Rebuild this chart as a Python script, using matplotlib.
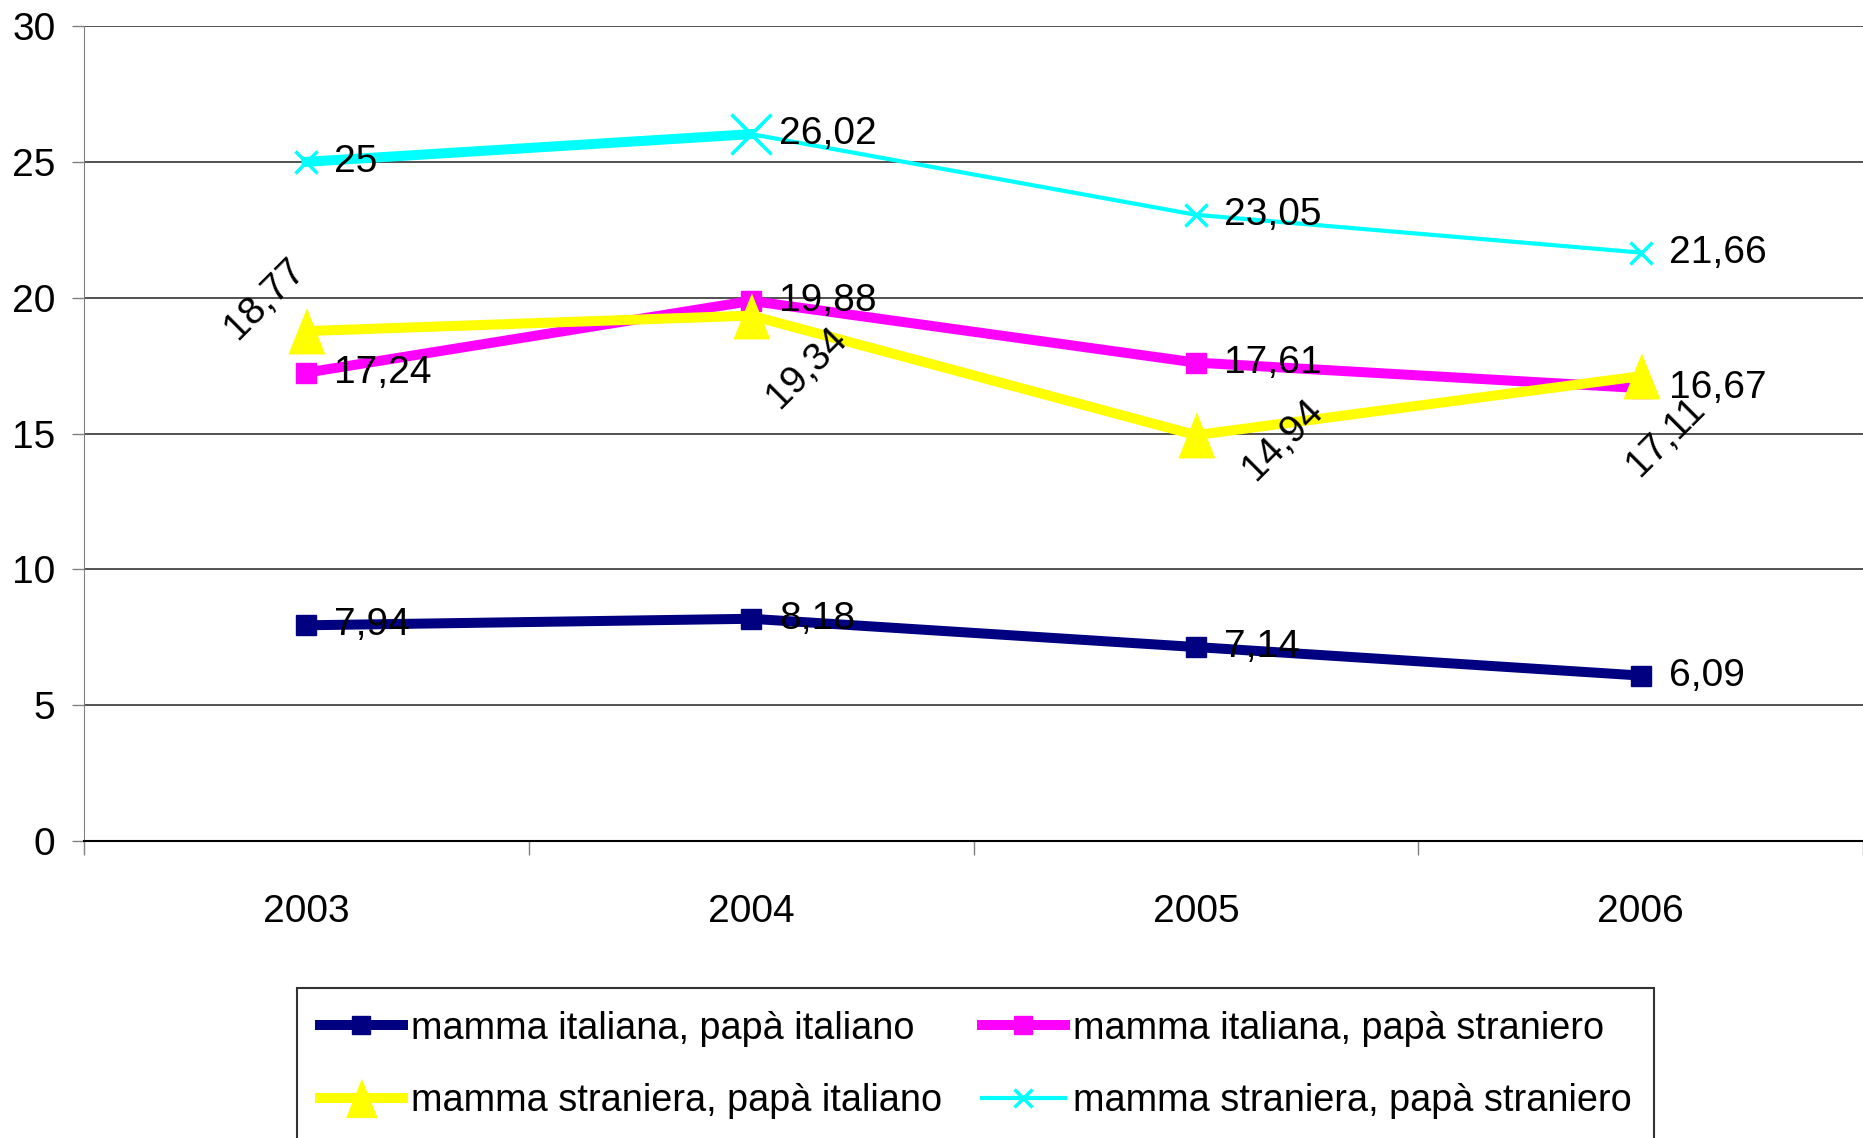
import numpy as np
import matplotlib
matplotlib.use("Agg")
from matplotlib import pyplot as plt

years = ["2003", "2004", "2005", "2006"]
it_it = [7.94, 8.18, 7.14, 6.09]
it_str = [17.24, 19.88, 17.61, 16.67]
str_it = [18.77, 19.34, 14.94, 17.11]
str_str = [25, 26.02, 23.05, 21.66]
names = ["mamma italiana, papà italiano", "mamma italiana, papà straniero",
         "mamma straniera, papà italiano", "mamma straniera, papà straniero"]

# rotated label offsets (pixels) for the yellow series
rot_offsets = [(-42, 32), (56, -52), (87, -5), (25, -61)]

plt.rcParams['font.family'] = ['Liberation Sans', 'DejaVu Sans']
FS = 28

def fmt(v):
	return f"{v:g}".replace('.', ',')

fig = plt.figure(figsize=(18.63, 11.38), dpi=100)
ax = fig.add_axes([84/1863, 1-841/1138, 1-84/1863, (841-26)/1138])

x = np.arange(len(years))
tri = [(-0.8, -1), (0.8, -1), (0, 1)]

l1, = ax.plot(x, it_it, color='#000080', lw=7.2, marker='s', ms=14.5, label=names[0], zorder=3)
l2, = ax.plot(x, it_str, color='#FF00FF', lw=7.2, marker='s', ms=14.5, label=names[1], zorder=4)
l3, = ax.plot(x, str_it, color='#FFFF00', lw=7.2, marker=tri, ms=32, label=names[2], zorder=5)
# cyan: first segment thick, rest thin
ax.plot(x[:2], str_str[:2], color='#00FFFF', lw=7.2, zorder=6)
l4, = ax.plot(x, str_str, color='#00FFFF', lw=3, marker='x', ms=16, mew=2.5, label=names[3], zorder=6)
ax.plot(x[1:2], str_str[1:2], color='#00FFFF', lw=0, marker='x', ms=29, mew=2.5, zorder=6)

for series in (it_it, it_str, str_str):
	for xi, v in zip(x, series):
		ax.annotate(fmt(v), (xi, v), xytext=(28, 0), textcoords='offset pixels',
			    ha='left', va='center', fontsize=FS, zorder=10)
for (xi, v), off in zip(zip(x, str_it), rot_offsets):
	ax.annotate(fmt(v), (xi, v), xytext=off, textcoords='offset pixels',
		    ha='center', va='center', rotation=45, rotation_mode='anchor', fontsize=FS, zorder=10)

ax.set_xlim(-0.5, 3.5)
ax.set_ylim(0, 30)
ax.set_yticks(range(0, 31, 5))
ax.yaxis.grid(True, color='#333333', lw=1.2)
ax.set_axisbelow(True)
ax.tick_params(axis='y', labelsize=FS, length=8.6, width=1, color='#808080', pad=12)

ax.set_xticks(np.arange(-0.5, 3.6, 1))
ax.set_xticklabels([])
ax.set_xticks(x, minor=True)
ax.set_xticklabels(years, minor=True)
ax.tick_params(axis='x', which='major', length=10, width=1, color='#808080')
ax.tick_params(axis='x', which='minor', length=0, labelsize=FS, pad=38)

for s in ('top', 'right'):
	ax.spines[s].set_visible(False)
ax.spines['left'].set_color('#808080')
ax.spines['bottom'].set_color('black')
ax.spines['bottom'].set_linewidth(1.5)

leg = fig.legend(handles=[l1, l3, l2, l4], loc='upper left',
		 bbox_to_anchor=(297/1863, 1-988/1138), ncol=2, fontsize=27.3,
		 frameon=True, fancybox=False, borderaxespad=0, borderpad=0.6,
		 handlelength=2.2, handletextpad=0.2, columnspacing=1.05, labelspacing=0.95,
		 markerscale=0.85)
leg.get_frame().set_edgecolor('black')
leg.get_frame().set_linewidth(1.5)

plt.savefig("out.png", dpi=100)
plt.close()
